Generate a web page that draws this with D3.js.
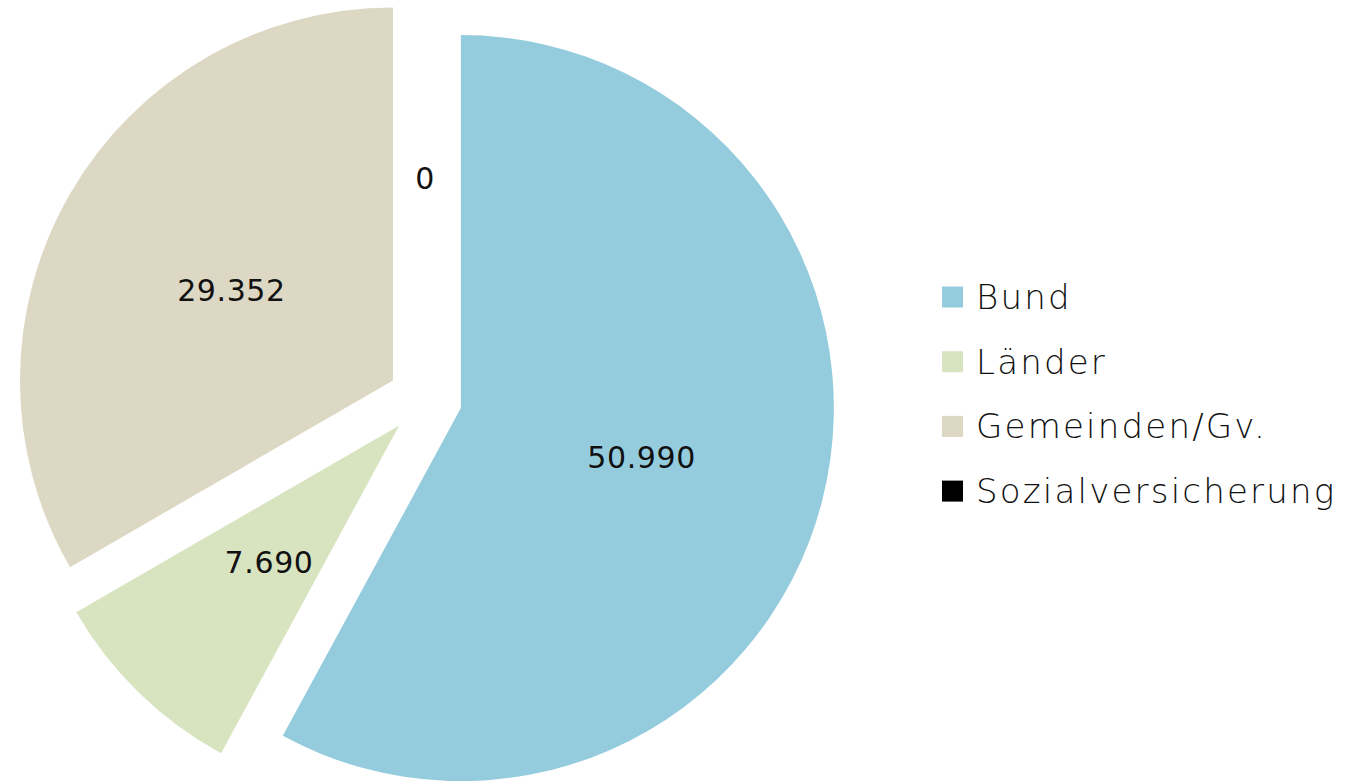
<!DOCTYPE html>
<html>
<head>
<meta charset="utf-8">
<script src="https://cdn.jsdelivr.net/npm/d3@7"></script>
<style>
  body { margin: 0; background: #fff; }
  svg { display: block; }
</style>
</head>
<body>
<div id="chart"></div>
<script>
// categories and values (Mio. EUR)
var categories = ["Bund", "Länder", "Gemeinden/Gv.", "Sozialversicherung"];
var values = [50990, 7690, 29352, 0];
var colors = ["#95ccdd", "#d8e4c0", "#ddd8c3", "#000000"];

var width = 1355, height = 781;
var cx = 425, cy = 399;
var radius = 373;
var explode = 37;

var svg = d3.select("#chart")
    .append("svg")
    .attr("width", width)
    .attr("height", height);

var pie = d3.pie()
    .sort(null)
    .value(function (d) { return d; });

var arc = d3.arc()
    .innerRadius(0)
    .outerRadius(radius);

var arcs = pie(values);

var g = svg.append("g")
    .attr("transform", "translate(" + cx + "," + cy + ")");

// shift every slice outwards along its middle angle
var offset = function (d) {
    var a = (d.startAngle + d.endAngle) / 2;
    return "translate(" + (explode * Math.sin(a)) + "," + (-explode * Math.cos(a)) + ")";
};

var slice = g.selectAll("g.slice")
    .data(arcs)
    .enter()
    .append("g")
    .attr("class", "slice")
    .attr("transform", offset);

slice.append("path")
    .attr("d", arc)
    .attr("fill", function (d, i) { return colors[i]; });

var fmt = d3.formatLocale({ decimal: ",", thousands: ".", grouping: [3], currency: ["", " €"] }).format(",d");

slice.append("text")
    .attr("transform", function (d) { return "translate(" + arc.centroid(d) + ")"; })
    .attr("text-anchor", "middle")
    .attr("dominant-baseline", "central")
    .attr("dy", "0.1em")
    .style("font-family", "DejaVu Sans, sans-serif")
    .style("font-size", "30px")
    .style("letter-spacing", "0.6px")
    .style("fill", "#111")
    .text(function (d) { return fmt(d.data); });

// legend
var legend = svg.append("g")
    .attr("transform", "translate(942,297)");

var item = legend.selectAll("g")
    .data(categories)
    .enter()
    .append("g")
    .attr("transform", function (d, i) { return "translate(0," + (i * 64.7) + ")"; });

item.append("rect")
    .attr("x", 0)
    .attr("y", -10.5)
    .attr("width", 21)
    .attr("height", 21)
    .attr("fill", function (d, i) { return colors[i]; });

item.append("text")
    .attr("x", 34)
    .attr("y", 0)
    .attr("dominant-baseline", "central")
    .style("font-family", "DejaVu Sans, sans-serif")
    .style("font-weight", "300")
    .style("font-size", "34px")
    .style("letter-spacing", "2.2px")
    .style("fill", "#111")
    .text(function (d) { return d; });
</script>
</body>
</html>
